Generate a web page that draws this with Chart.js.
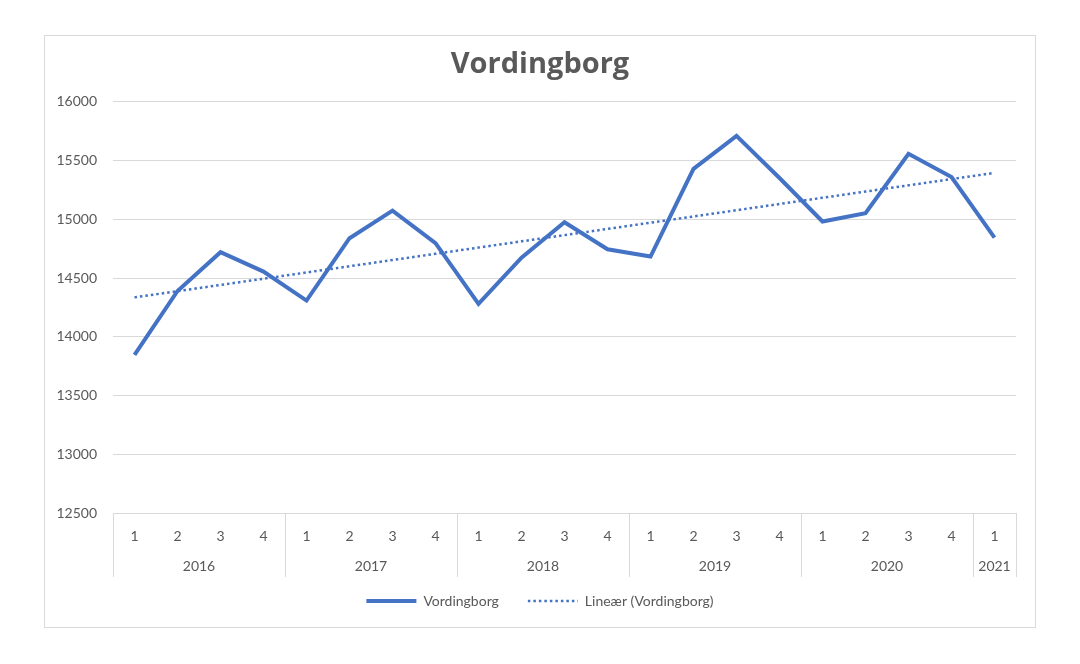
<!DOCTYPE html>
<html>
<head>
<meta charset="utf-8">
<script src="https://cdn.jsdelivr.net/npm/chart.js@4/dist/chart.umd.min.js"></script>
<style>
  body { margin: 0; background: #fff; }
  #frame { position: absolute; left: 44px; top: 35px; width: 990px; height: 591px; border: 1px solid #d9d9d9; pointer-events: none; }
  canvas { position: absolute; left: 0; top: 0; }
</style>
</head>
<body>
<canvas id="myChart" width="1080" height="664"></canvas>
<div id="frame"></div>
<script>
// data
const quarters = ['1', '2', '3', '4', '1', '2', '3', '4', '1', '2', '3', '4', '1', '2', '3', '4', '1', '2', '3', '4', '1'];
const years = ['2016', '2017', '2018', '2019', '2020', '2021'];
const yearSpans = [4, 4, 4, 4, 4, 1];
const vordingborg = [13845, 14390, 14720, 14555, 14308, 14839, 15074, 14797, 14280, 14674, 14975,
                     14745, 14683, 15429, 15710, 15351, 14981, 15052, 15557, 15359, 14844];
const yTicks = [12500, 13000, 13500, 14000, 14500, 15000, 15500, 16000];

// linear trend (least squares), like Excel's trendline
const n = vordingborg.length;
const meanX = (n - 1) / 2;
const meanY = vordingborg.reduce((a, b) => a + b, 0) / n;
let sxy = 0, sxx = 0;
vordingborg.forEach((v, i) => { sxy += (i - meanX) * (v - meanY); sxx += (i - meanX) * (i - meanX); });
const slope = sxy / sxx;
const trend = vordingborg.map((_, i) => meanY + slope * (i - meanX));

const textColor = '#595959';
const gridColor = '#d9d9d9';
const blue = '#4472c4';

// draws the second level (years) of the category axis, Excel style
const yearAxis = {
    id: 'yearAxis',
    afterDraw(chart) {
        const x = chart.scales.x;
        const ctx = chart.ctx;
        const half = (x.getPixelForValue(1) - x.getPixelForValue(0)) / 2;
        const top = chart.chartArea.bottom;
        ctx.save();
        ctx.strokeStyle = gridColor;
        ctx.lineWidth = 1;
        ctx.fillStyle = textColor;
        ctx.font = '14px Lato';
        ctx.textAlign = 'center';
        ctx.textBaseline = 'middle';
        let start = 0;
        yearSpans.forEach((span, k) => {
            const left = x.getPixelForValue(start) - half;
            const right = x.getPixelForValue(start + span - 1) + half;
            ctx.beginPath();
            ctx.moveTo(Math.round(left) + 0.5, top);
            ctx.lineTo(Math.round(left) + 0.5, top + 64);
            if (k === yearSpans.length - 1) {
                ctx.moveTo(Math.round(right) + 0.5, top);
                ctx.lineTo(Math.round(right) + 0.5, top + 64);
            }
            ctx.stroke();
            ctx.fillText(years[k], (left + right) / 2, top + 53);
            start += span;
        });
        ctx.restore();
    }
};

const ctx = document.getElementById('myChart').getContext('2d');

new Chart(ctx, {
    type: 'line',
    data: {
        labels: quarters,
        datasets: [
            {
                label: 'Vordingborg',
                data: vordingborg,
                borderColor: blue,
                backgroundColor: blue,
                borderWidth: 4,
                pointRadius: 0,
                tension: 0
            },
            {
                label: 'Lineær (Vordingborg)',
                data: trend,
                borderColor: blue,
                backgroundColor: blue,
                borderWidth: 2.5,
                borderDash: [2.5, 3],
                pointRadius: 0,
                tension: 0
            }
        ]
    },
    options: {
        responsive: false,
        animation: false,
        layout: { padding: { left: 0, right: 0, top: 0, bottom: 46 } },
        scales: {
            x: {
                offset: true,
                grid: { display: false },
                border: { display: true, color: gridColor },
                ticks: { color: textColor, font: { family: 'Lato', size: 14 }, padding: 7, maxRotation: 0, autoSkip: false },
                afterFit: function(scale) { scale.height = 52; }
            },
            y: {
                min: yTicks[0],
                max: yTicks[yTicks.length - 1],
                afterBuildTicks: function(scale) { scale.ticks = yTicks.map(v => ({ value: v })); },
                grid: { color: gridColor, drawTicks: false },
                border: { display: false },
                ticks: {
                    color: textColor,
                    font: { family: 'Lato', size: 14 },
                    padding: 16,
                    callback: function(value) { return String(value); }
                },
                afterFit: function(scale) { scale.width = 113; }
            },
            // empty right margin so the title and legend center on the page
            yRight: {
                position: 'right',
                display: true,
                grid: { display: false },
                border: { display: false },
                ticks: { display: false },
                afterFit: function(scale) { scale.width = 64; }
            }
        },
        plugins: {
            title: {
                display: true,
                text: 'Vordingborg',
                color: textColor,
                font: { family: 'Open Sans', size: 29, weight: 'bold' },
                padding: { top: 47, bottom: 20 }
            },
            legend: {
                position: 'bottom',
                labels: {
                    color: textColor,
                    font: { family: 'Lato', size: 14 },
                    usePointStyle: true,
                    pointStyleWidth: 50,
                    padding: 29,
                    generateLabels: function(chart) {
                        return chart.data.datasets.map((ds, i) => ({
                            text: ds.label,
                            datasetIndex: i,
                            fillStyle: ds.borderColor,
                            strokeStyle: ds.borderColor,
                            lineWidth: ds.borderWidth,
                            lineDash: ds.borderDash || [],
                            lineCap: 'butt',
                            pointStyle: 'line',
                            fontColor: textColor,
                            hidden: false
                        }));
                    }
                }
            },
            tooltip: { enabled: false }
        }
    },
    plugins: [yearAxis]
});
</script>
</body>
</html>
